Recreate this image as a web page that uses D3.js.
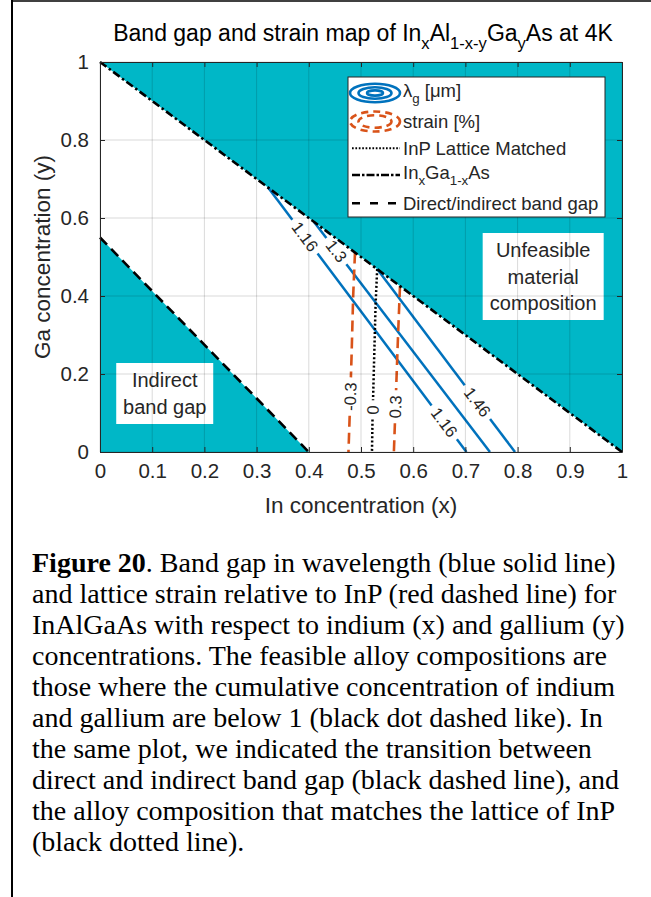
<!DOCTYPE html>
<html><head><meta charset="utf-8">
<script src="https://cdn.jsdelivr.net/npm/d3@7"></script>
<style>body{margin:0;background:#fff}</style>
</head><body>
<svg id="c" width="651" height="897"></svg>
<script>
// ---------------- data ----------------
const xTicks = [0,0.1,0.2,0.3,0.4,0.5,0.6,0.7,0.8,0.9,1];
const yTicks = [0,0.2,0.4,0.6,0.8,1];
const unfeasibleRegion = [[0,1],[1,1],[1,0]];
const feasibleLine = [[0,1],[1,0]];
const indirectRegion = [[0,0],[0,0.55],[0.4,0]];
const indirectLine = [[0,0.55],[0.4,0]];
const lambdaLevels = ["1.16","1.3","1.46"];
const lambda116 = [[0.322,0.678],[0.702,0]];
const lambda130 = [[0.410,0.590],[0.747,0]];
const lambda146 = [[0.531,0.469],[0.795,0]];
const lambda116LabelY = [0.552, 0.076];
const lambda130LabelY = [0.515];
const lambda146LabelY = [0.128];
const strainLevels = ["-0.3","0.3"];
const strainM03 = [[0.4885,0.5115],[0.485,0.40],[0.482,0.25],[0.479,0.12],[0.476,0]];
const strainP03 = [[0.5747,0.4253],[0.571,0.30],[0.567,0.15],[0.563,0]];
const strainLabelY = [0.142, 0.116];
const latticeMatched = [[0.531,0.469],[0.528,0.38],[0.526,0.28],[0.524,0.18],[0.522,0.08],[0.521,0]];
const latticeLabel = "0";
const latticeLabelY = 0.108;
const indirectTextPos = [0.124, 0.15];
const unfeasibleTextPos = [0.849, 0.45];
const captionLines = [
  "Figure 20. Band gap in wavelength (blue solid line)",
  "and lattice strain relative to InP (red dashed line) for",
  "InAlGaAs with respect to indium (x) and gallium (y)",
  "concentrations. The feasible alloy compositions are",
  "those where the cumulative concentration of indium",
  "and gallium are below 1 (black dot dashed like). In",
  "the same plot, we indicated the transition between",
  "direct and indirect band gap (black dashed line), and",
  "the alloy composition that matches the lattice of InP",
  "(black dotted line)."
];

// ---------------- style ----------------
const SX = 1.0;
const SANS = "'Liberation Sans', Arial, Helvetica, sans-serif";
const SERIF = "'Liberation Serif', 'Times New Roman', serif";
const CYAN = "#00B7C7";
const BLUE = "#0072BD";
const ORANGE = "#D95319";
const AX = "#262626";

const svg = d3.select("#c");
const W = 651, H = 897;
svg.append("rect").attr("width", W).attr("height", H).attr("fill", "#fff");

const x = d3.scaleLinear().domain([0,1]).range([100,622]);
const y = d3.scaleLinear().domain([0,1]).range([452,62]);
const line = d3.line().x(d => x(d[0])).y(d => y(d[1]));

const gFill = svg.append("g");
const gLines = svg.append("g");
const gLabels = svg.append("g");
const gBoxes = svg.append("g");
const gGrid = svg.append("g");
const gAxes = svg.append("g");
const gLegend = svg.append("g");
const gText = svg.append("g");

// fills
gFill.append("path").attr("d", line(unfeasibleRegion) + "Z").attr("fill", CYAN);
gFill.append("path").attr("d", line(indirectRegion) + "Z").attr("fill", CYAN);

function rich(sel, parts, subScale) {
  let shifted = 0;
  parts.forEach(p => {
    const t = sel.append("tspan").text(p.t);
    if (p.sub) {
      t.attr("font-size", subScale + "em").attr("dy", (0.35 / subScale) + "em");
      shifted = 1;
    } else if (shifted) {
      t.attr("dy", (-0.35) + "em");
      shifted = 0;
    }
  });
  return sel;
}

function contour(pts, labels, style) {
  const P = pts.map(d => [x(d[0]), y(d[1])]);
  const cum = [0];
  for (let i = 1; i < P.length; i++) cum.push(cum[i-1] + Math.hypot(P[i][0]-P[i-1][0], P[i][1]-P[i-1][1]));
  const total = cum[cum.length-1];
  const gaps = [];
  labels.forEach(lb => {
    const py = y(lb.y);
    for (let i = 0; i < P.length - 1; i++) {
      if ((P[i][1]-py) * (P[i+1][1]-py) <= 0) {
        const t = (py - P[i][1]) / (P[i+1][1] - P[i][1]);
        const dx = P[i+1][0]-P[i][0], dy = P[i+1][1]-P[i][1];
        const px = P[i][0] + t*dx;
        const s = cum[i] + t*(cum[i+1]-cum[i]);
        let ang = Math.atan2(dy, dx) * 180 / Math.PI;
        if (ang > 90) ang -= 180;
        if (ang < -90) ang += 180;
        const rad = ang * Math.PI / 180;
        const th = Math.atan2(SX * Math.sin(rad), Math.cos(rad)) * 180 / Math.PI;
        const tx = gLabels.append("text").text(lb.text)
          .attr("font-family", SANS).attr("font-size", 16.5).attr("fill", AX)
          .attr("text-anchor", "middle").attr("dy", "0.35em")
          .attr("transform", `translate(${px},${py}) scale(${SX},1) rotate(${th})`);
        const w = tx.node().getComputedTextLength();
        gaps.push([s - w/2 - 5, s + w/2 + 5]);
        break;
      }
    }
  });
  gaps.sort((a,b) => a[0]-b[0]);
  const pointAt = s => {
    for (let i = 0; i < P.length - 1; i++) {
      if (s <= cum[i+1] || i === P.length - 2) {
        const t = (s - cum[i]) / (cum[i+1] - cum[i]);
        return [P[i][0] + t*(P[i+1][0]-P[i][0]), P[i][1] + t*(P[i+1][1]-P[i][1])];
      }
    }
  };
  const ranges = [];
  let cur = 0;
  gaps.forEach(g => { if (g[0] > cur) ranges.push([cur, g[0]]); cur = Math.max(cur, g[1]); });
  if (cur < total) ranges.push([cur, total]);
  ranges.forEach(([s0, s1]) => {
    const seg = [pointAt(s0)];
    for (let i = 0; i < P.length; i++) if (cum[i] > s0 && cum[i] < s1) seg.push(P[i]);
    seg.push(pointAt(s1));
    gLines.append("path").attr("d", d3.line()(seg)).attr("fill", "none")
      .attr("stroke", style.color).attr("stroke-width", style.width)
      .attr("stroke-dasharray", style.dash || null);
  });
}

const blueStyle = {color: BLUE, width: 2.5};
contour(lambda116, lambda116LabelY.map(v => ({text: lambdaLevels[0], y: v})), blueStyle);
contour(lambda130, lambda130LabelY.map(v => ({text: lambdaLevels[1], y: v})), blueStyle);
contour(lambda146, lambda146LabelY.map(v => ({text: lambdaLevels[2], y: v})), blueStyle);
const orangeStyle = {color: ORANGE, width: 2.6, dash: "11,6"};
contour(strainM03, [{text: strainLevels[0], y: strainLabelY[0]}], orangeStyle);
contour(strainP03, [{text: strainLevels[1], y: strainLabelY[1]}], orangeStyle);
contour(latticeMatched, [{text: latticeLabel, y: latticeLabelY}], {color: "#000", width: 2.5, dash: "2,2.2"});

// boundaries
gLines.append("path").attr("d", line(feasibleLine)).attr("fill", "none")
  .attr("stroke", "#000").attr("stroke-width", 2.6).attr("stroke-dasharray", "8,3,2.5,3");
gLines.append("path").attr("d", line(indirectLine)).attr("fill", "none")
  .attr("stroke", "#000").attr("stroke-width", 2.6).attr("stroke-dasharray", "10,6");

// text boxes
function textBox(pos, lines, bw, bh, lh) {
  const cx = x(pos[0]), cy = y(pos[1]);
  gBoxes.append("rect").attr("x", cx - bw/2).attr("y", cy - bh/2).attr("width", bw).attr("height", bh).attr("fill", "#fff");
  lines.forEach((t, i) => {
    gBoxes.append("text").text(t).attr("font-family", SANS).attr("font-size", 20).attr("fill", AX)
      .attr("text-anchor", "middle").attr("dy", "0.35em")
      .attr("transform", `translate(${cx},${cy + (i - (lines.length-1)/2) * lh}) scale(${SX},1)`);
  });
}
textBox(indirectTextPos, ["Indirect", "band gap"], 97, 61, 26.5);
textBox(unfeasibleTextPos, ["Unfeasible", "material", "composition"], 121, 87, 26.5);

// grid
xTicks.forEach(t => gGrid.append("line").attr("x1", x(t)).attr("x2", x(t)).attr("y1", y(0)).attr("y2", y(1))
  .attr("stroke", "#000").attr("stroke-opacity", 0.15).attr("stroke-width", 1));
yTicks.forEach(t => gGrid.append("line").attr("x1", x(0)).attr("x2", x(1)).attr("y1", y(t)).attr("y2", y(t))
  .attr("stroke", "#000").attr("stroke-opacity", 0.15).attr("stroke-width", 1));

// axes
const fmt = d => d3.format("~g")(d);
function styleAxis(g) {
  g.selectAll(".domain").attr("stroke", AX).attr("stroke-width", 1);
  g.selectAll(".tick line").attr("stroke", AX).attr("stroke-width", 1);
  g.selectAll(".tick text").attr("fill", AX).attr("font-family", SANS).attr("font-size", 20.5)
    .attr("transform", `scale(${SX},1)`);
}
gAxes.append("g").attr("transform", `translate(0,${y(0)})`)
  .call(d3.axisBottom(x).tickValues(xTicks).tickFormat(fmt).tickSizeInner(-5).tickSizeOuter(0).tickPadding(11)).call(styleAxis);
gAxes.append("g").attr("transform", `translate(0,${y(1)})`)
  .call(d3.axisTop(x).tickValues(xTicks).tickFormat("").tickSizeInner(-5).tickSizeOuter(0)).call(styleAxis);
gAxes.append("g").attr("transform", `translate(${x(0)},0)`)
  .call(d3.axisLeft(y).tickValues(yTicks).tickFormat(fmt).tickSizeInner(-5).tickSizeOuter(0).tickPadding(11)).call(styleAxis);
gAxes.append("g").attr("transform", `translate(${x(1)},0)`)
  .call(d3.axisRight(y).tickValues(yTicks).tickFormat("").tickSizeInner(-5).tickSizeOuter(0)).call(styleAxis);

// axis labels and title
gText.append("text").text("In concentration (x)").attr("font-family", SANS).attr("font-size", 22.5).attr("fill", AX)
  .attr("text-anchor", "middle").attr("dy", "0.35em").attr("transform", `translate(361,505) scale(${SX},1)`);
gText.append("text").text("Ga concentration (y)").attr("font-family", SANS).attr("font-size", 22.5).attr("fill", AX)
  .attr("text-anchor", "middle").attr("dy", "0.35em").attr("transform", `translate(42,257) scale(${SX},1) rotate(-90)`);
rich(gText.append("text").attr("font-family", SANS).attr("font-size", 23).attr("fill", "#000")
  .attr("text-anchor", "middle").attr("transform", `translate(363,41) scale(${SX},1)`),
  [{t:"Band gap and strain map of In"},{t:"x",sub:1},{t:"Al"},{t:"1-x-y",sub:1},{t:"Ga"},{t:"y",sub:1},{t:"As at 4K"}], 0.72);

// legend
const L = {x: 348, y: 77, w: 257, h: 140};
gLegend.append("rect").attr("x", L.x).attr("y", L.y).attr("width", L.w).attr("height", L.h)
  .attr("fill", "#fff").attr("stroke", AX).attr("stroke-width", 1);
const rows = [93, 121.5, 148.3, 175, 203.3];
[[25,9.2],[16.5,5.8],[8,2.6]].forEach(([rx, ry]) => {
  gLegend.append("ellipse").attr("cx", 375).attr("cy", rows[0]).attr("rx", rx).attr("ry", ry)
    .attr("fill", "none").attr("stroke", BLUE).attr("stroke-width", 2.6);
});
[[25,10],[16.5,6.2]].forEach(([rx, ry]) => {
  gLegend.append("ellipse").attr("cx", 375).attr("cy", rows[1]).attr("rx", rx).attr("ry", ry)
    .attr("fill", "none").attr("stroke", ORANGE).attr("stroke-width", 2.6).attr("stroke-dasharray", "7,5");
});
gLegend.append("line").attr("x1", 352).attr("x2", 400).attr("y1", rows[2]).attr("y2", rows[2])
  .attr("stroke", "#000").attr("stroke-width", 2).attr("stroke-dasharray", "1.7,1.7");
gLegend.append("line").attr("x1", 352).attr("x2", 400).attr("y1", rows[3]).attr("y2", rows[3])
  .attr("stroke", "#000").attr("stroke-width", 2.6).attr("stroke-dasharray", "8,2,2.5,2");
gLegend.append("line").attr("x1", 352).attr("x2", 400).attr("y1", rows[4]).attr("y2", rows[4])
  .attr("stroke", "#000").attr("stroke-width", 2.6).attr("stroke-dasharray", "8,10");
const legendTexts = [
  [{t:"λ"},{t:"g",sub:1},{t:" [μm]"}],
  [{t:"strain [%]"}],
  [{t:"InP Lattice Matched"}],
  [{t:"In"},{t:"x",sub:1},{t:"Ga"},{t:"1-x",sub:1},{t:"As"}],
  [{t:"Direct/indirect band gap"}]
];
legendTexts.forEach((parts, i) => {
  rich(gLegend.append("text").attr("font-family", SANS).attr("font-size", 18.5).attr("fill", AX)
    .attr("transform", `translate(403,${rows[i] + (i===0||i===3 ? 4 : 6.5)}) scale(${SX},1)`), parts, 0.72);
});

// frame border of page
svg.append("line").attr("x1", 12).attr("x2", 12).attr("y1", 0).attr("y2", H).attr("stroke", "#000").attr("stroke-width", 2);
svg.append("line").attr("x1", 12).attr("x2", W).attr("y1", 1).attr("y2", 1).attr("stroke", "#000").attr("stroke-width", 1.5);

// caption
captionLines.forEach((ln, i) => {
  const t = svg.append("text").attr("x", 32).attr("y", 572 + 31*i)
    .attr("font-family", SERIF).attr("font-size", 28).attr("fill", "#000");
  if (i === 0) {
    t.append("tspan").attr("font-weight", "bold").text("Figure 20");
    t.append("tspan").text(ln.slice(9));
  } else t.text(ln);
});
</script>
</body></html>
